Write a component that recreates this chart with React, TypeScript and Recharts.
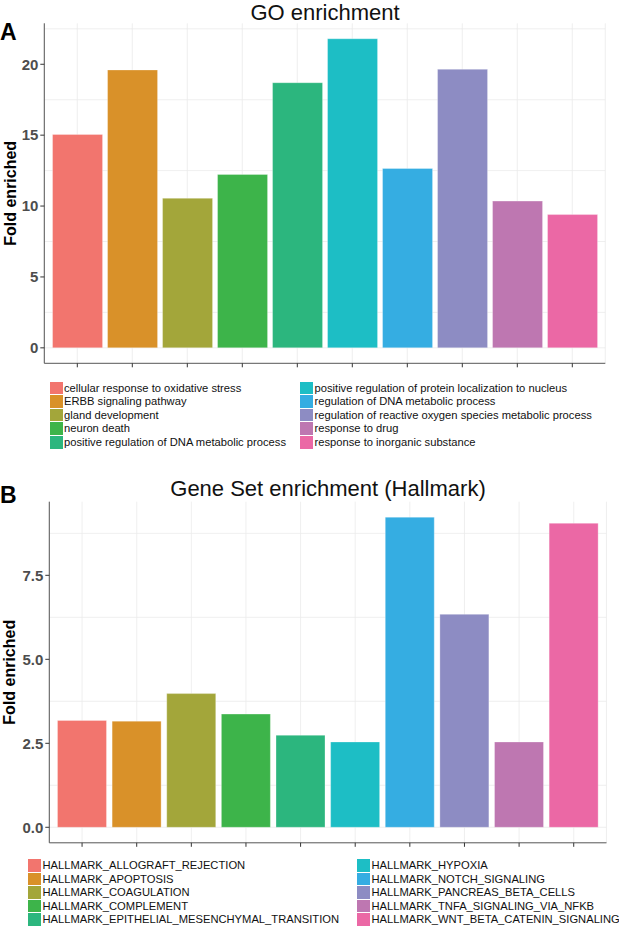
import { BarChart, Bar, XAxis, YAxis, CartesianGrid, Cell } from "recharts";

// GO enrichment (panel A)
const goTerms = [
  "cellular response to oxidative stress",
  "ERBB signaling pathway",
  "gland development",
  "neuron death",
  "positive regulation of DNA metabolic process",
  "positive regulation of protein localization to nucleus",
  "regulation of DNA metabolic process",
  "regulation of reactive oxygen species metabolic process",
  "response to drug",
  "response to inorganic substance",
];
const goFold = [15.05, 19.6, 10.55, 12.23, 18.7, 21.8, 12.65, 19.65, 10.35, 9.4];
const goTicks = [0, 5, 10, 15, 20];
const goMinor = [2.5, 7.5, 12.5, 17.5, 22.5];

// Hallmark gene sets (panel B)
const hallmarkSets = [
  "HALLMARK_ALLOGRAFT_REJECTION",
  "HALLMARK_APOPTOSIS",
  "HALLMARK_COAGULATION",
  "HALLMARK_COMPLEMENT",
  "HALLMARK_EPITHELIAL_MESENCHYMAL_TRANSITION",
  "HALLMARK_HYPOXIA",
  "HALLMARK_NOTCH_SIGNALING",
  "HALLMARK_PANCREAS_BETA_CELLS",
  "HALLMARK_TNFA_SIGNALING_VIA_NFKB",
  "HALLMARK_WNT_BETA_CATENIN_SIGNALING",
];
const hallmarkFold = [3.18, 3.16, 3.98, 3.37, 2.74, 2.54, 9.23, 6.34, 2.54, 9.05];
const hallmarkTicks = [0, 2.5, 5, 7.5];
const hallmarkMinor = [1.25, 3.75, 6.25, 8.75];

const hue = [
  "#F2756E",
  "#D99129",
  "#A3A63A",
  "#3DB44A",
  "#2CB67E",
  "#1DBEC5",
  "#35ADE2",
  "#8D8CC3",
  "#BE77B1",
  "#EB68A5",
];

const FONT = "'Liberation Sans', Arial, Helvetica, sans-serif";
const BORDER = "#555555";

const AxisTitle = ({ viewBox }: any) => {
  const cx = viewBox.x + 10;
  const cy = viewBox.y + viewBox.height / 2;
  return (
    <text
      x={cx}
      y={cy}
      transform={`rotate(-90 ${cx} ${cy})`}
      textAnchor="middle"
      dominantBaseline="central"
      fontFamily={FONT}
      fontWeight="bold"
      fontSize={16}
      fill="#000"
    >
      Fold enriched
    </text>
  );
};

// x tick labels are hidden in the reference, only the tick marks stay
const NoLabel = () => <g />;

interface PanelProps {
  names: string[];
  values: number[];
  ticks: number[];
  minor: number[];
  fmt: (v: number) => string;
  width: number;
  height: number;
  margin: { top: number; right: number; left: number; bottom: number };
  yWidth: number;
  pad: number;
}

function Panel({ names, values, ticks, minor, fmt, width, height, margin, yWidth, pad }: PanelProps) {
  const data = names.map((name, i) => ({ name, fold: values[i] }));
  const max = Math.max(...values);
  const domain = [-0.05 * max, 1.05 * max];
  return (
    <BarChart width={width} height={height} data={data} margin={margin} barCategoryGap="5%">
      <CartesianGrid
        stroke="#EBEBEB"
        strokeWidth={0.8}
        horizontalValues={[...ticks, ...minor]}
      />
      <XAxis
        dataKey="name"
        padding={{ left: pad, right: pad }}
        interval={0}
        tick={<NoLabel />}
        tickSize={4}
        height={8}
        axisLine={{ stroke: BORDER }}
        tickLine={{ stroke: "#333" }}
      />
      <XAxis xAxisId="top" orientation="top" dataKey="name" height={0} tick={false} tickLine={false} axisLine={{ stroke: BORDER }} />
      <YAxis
        type="number"
        domain={domain}
        allowDataOverflow
        ticks={ticks}
        tickFormatter={fmt}
        width={yWidth}
        tickSize={4}
        tickMargin={2}
        axisLine={{ stroke: BORDER }}
        tickLine={{ stroke: "#333" }}
        tick={{ fill: "#4D4D4D", fontSize: 15, fontWeight: "bold", fontFamily: FONT }}
        label={<AxisTitle />}
      />
      <YAxis yAxisId="right" orientation="right" width={0} tick={false} tickLine={false} axisLine={{ stroke: BORDER }} />
      <Bar dataKey="fold" isAnimationActive={false} stroke="#ffffff" strokeOpacity={0.5} strokeWidth={0.6}>
        {data.map((d, i) => (
          <Cell key={d.name} fill={hue[i]} />
        ))}
      </Bar>
    </BarChart>
  );
}

function Legend2({ names, top, left, col2 }: { names: string[]; top: number; left: number; col2: number }) {
  const half = Math.ceil(names.length / 2);
  const cols = [names.slice(0, half), names.slice(half)];
  return (
    <>
      {cols.map((col, c) => (
        <div key={c} style={{ position: "absolute", top, left: c === 0 ? left : col2 }}>
          {col.map((name, r) => (
            <div key={name} style={{ display: "flex", alignItems: "center", height: 13.6 }}>
              <div
                style={{
                  width: 13,
                  height: 13.6,
                  background: hue[c * half + r],
                  boxSizing: "border-box",
                  borderBottom: "0.5px solid #fff",
                }}
              />
              <span
                style={{
                  marginLeft: 1.5,
                  fontFamily: FONT,
                  fontSize: 11.2,
                  color: "#111",
                  whiteSpace: "nowrap",
                  lineHeight: "13.6px",
                }}
              >
                {name}
              </span>
            </div>
          ))}
        </div>
      ))}
    </>
  );
}

const titleStyle = (top: number, center: number): React.CSSProperties => ({
  position: "absolute",
  top,
  left: center - 250,
  width: 500,
  textAlign: "center",
  fontFamily: FONT,
  fontSize: 22,
  color: "#111",
  lineHeight: "normal",
  whiteSpace: "nowrap",
});

const tagStyle = (top: number): React.CSSProperties => ({
  position: "absolute",
  top,
  left: 0,
  fontFamily: FONT,
  fontWeight: "bold",
  fontSize: 23,
  color: "#000",
  lineHeight: "24px",
});

export default function App() {
  return (
    <div style={{ position: "absolute", left: 0, top: 0, width: 619, height: 929, background: "#fff", overflow: "hidden" }}>
      <div style={{ position: "absolute", left: 0, top: 0 }}>
        <Panel
          names={goTerms}
          values={goFold}
          ticks={goTicks}
          minor={goMinor}
          fmt={(v) => String(v)}
          width={619}
          height={371.3}
          margin={{ top: 23.3, right: 13.7, left: 0, bottom: 0 }}
          yWidth={44.3}
          pad={5.5}
        />
      </div>
      <div style={titleStyle(0, 325)}>GO enrichment</div>
      <div style={tagStyle(20)}>A</div>
      <Legend2 names={goTerms} top={381.7} left={49.5} col2={300} />

      <div style={{ position: "absolute", left: 0, top: 478 }}>
        <Panel
          names={hallmarkSets}
          values={hallmarkFold}
          ticks={hallmarkTicks}
          minor={hallmarkMinor}
          fmt={(v) => v.toFixed(1)}
          width={619}
          height={372.8}
          margin={{ top: 23.7, right: 12.5, left: 0, bottom: 0 }}
          yWidth={49.3}
          pad={5.46}
        />
      </div>
      <div style={titleStyle(476, 328)}>Gene Set enrichment (Hallmark)</div>
      <div style={tagStyle(483.3)}>B</div>
      <Legend2 names={hallmarkSets} top={859} left={28} col2={357} />
    </div>
  );
}
